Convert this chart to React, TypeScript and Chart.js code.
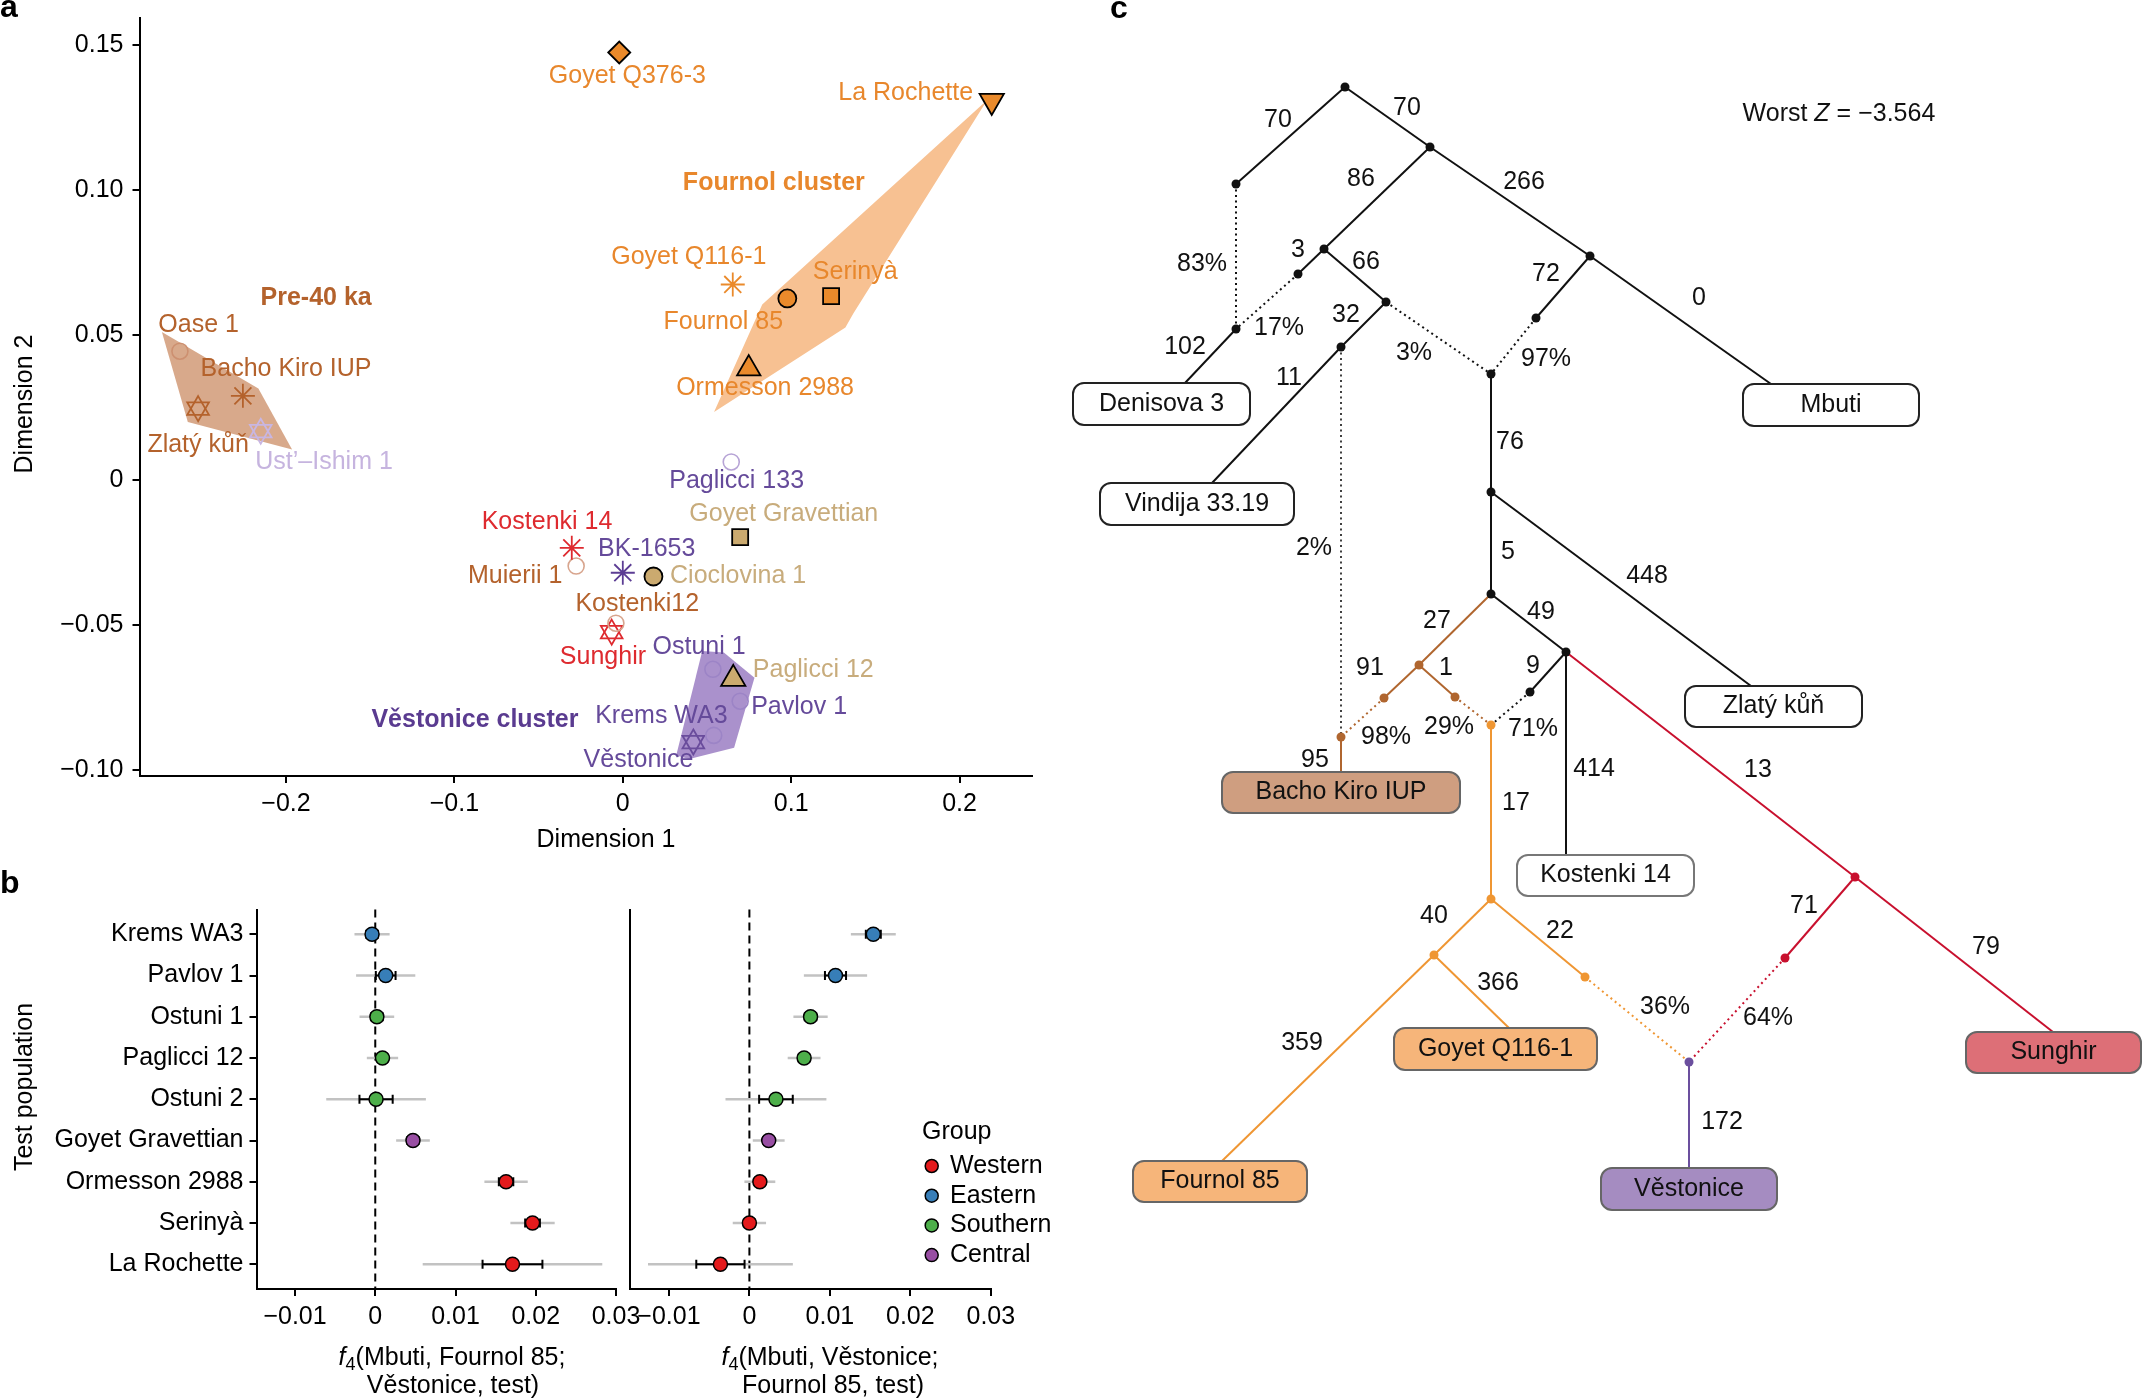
import React, { useEffect, useRef } from 'react';
import { Chart, registerables } from 'chart.js';

Chart.register(...registerables);

const PAGE_W = 2143;
const PAGE_H = 1400;
const FONT = "'Liberation Sans', Arial, Helvetica, sans-serif";
const INK = '#111111';
const FS = 25;

// ================= Panel a : MDS =================
const mdsSamples = [
  'Goyet Q376-3', 'La Rochette', 'Goyet Q116-1', 'Fournol 85', 'Serinyà', 'Ormesson 2988',
  'Oase 1', 'Bacho Kiro IUP', 'Zlatý kůň', 'Ust’–Ishim 1', 'Paglicci 133', 'Goyet Gravettian',
  'Kostenki 14', 'Muierii 1', 'BK-1653', 'Cioclovina 1', 'Kostenki12', 'Sunghir', 'Ostuni 1',
  'Paglicci 12', 'Pavlov 1', 'Krems WA3', 'Věstonice',
];
const mdsDim1 = [
  -0.0021, 0.2191, 0.0653, 0.0977, 0.1237, 0.0748,
  -0.263, -0.2256, -0.2522, -0.215, 0.0644, 0.0697,
  -0.0303, -0.0277, 0.0, 0.0182, -0.0041, -0.0066, 0.0535,
  0.0656, 0.0697, 0.054, 0.0419,
];
const mdsDim2 = [
  0.1473, 0.1306, 0.0673, 0.0625, 0.0633, 0.0383,
  0.0443, 0.0289, 0.0245, 0.0167, 0.0061, -0.0198,
  -0.0235, -0.0298, -0.0321, -0.0334, -0.0495, -0.0526, -0.0654,
  -0.0687, -0.0764, -0.0882, -0.0905,
];
const mdsXTicks = [-0.2, -0.1, 0, 0.1, 0.2];
const mdsXTickLabels = ['−0.2', '−0.1', '0', '0.1', '0.2'];
const mdsYTicks = [-0.1, -0.05, 0, 0.05, 0.1, 0.15];
const mdsYTickLabels = ['−0.10', '−0.05', '0', '0.05', '0.10', '0.15'];

const hullPre40 = [[-0.2737, 0.0509], [-0.2164, 0.0314], [-0.1964, 0.0104], [-0.2583, 0.0199]];
const hullFournol = [[0.2164, 0.1309], [0.1369, 0.0573], [0.1322, 0.0525], [0.0542, 0.0233], [0.0828, 0.0604]];
const hullVestonice = [[0.0472, -0.0591], [0.06, -0.0596], [0.0782, -0.0683], [0.0661, -0.0925], [0.0395, -0.0963], [0.0317, -0.0951]];

const clusterNames = ['Pre-40 ka', 'Fournol cluster', 'Věstonice cluster'];

// ---- styles for panel a ----
const ORANGE = '#EA8A2B';
const BROWN = '#B4622C';
const RED = '#DE2A2F';
const TAN = '#CBAA6F';
const PURPLE = '#654A9A';
const LAV = '#9C84C6';

const mdsMarker: Record<string, any> = {
  'Goyet Q376-3': { shape: 'rectRot', fill: ORANGE, stroke: '#000', r: 11, bw: 1.8 },
  'La Rochette': { shape: 'triangle', fill: ORANGE, stroke: '#000', r: 14, bw: 1.8, rot: 180 },
  'Goyet Q116-1': { shape: 'star', stroke: ORANGE, r: 12, bw: 1.8 },
  'Fournol 85': { shape: 'circle', fill: ORANGE, stroke: '#000', r: 9, bw: 1.8 },
  'Serinyà': { shape: 'rect', fill: ORANGE, stroke: '#000', r: 11.3, bw: 1.8 },
  'Ormesson 2988': { shape: 'triangle', fill: ORANGE, stroke: '#000', r: 13.5, bw: 1.8 },
  'Oase 1': { shape: 'circle', stroke: '#CD9070', r: 8, bw: 1.6 },
  'Bacho Kiro IUP': { shape: 'star', stroke: BROWN, r: 12, bw: 1.8 },
  'Zlatý kůň': { shape: 'triangle', stroke: BROWN, r: 12.5, bw: 1.8, david: true },
  'Ust’–Ishim 1': { shape: 'triangle', stroke: '#C8B6E2', r: 12.5, bw: 1.8, david: true },
  'Paglicci 133': { shape: 'circle', stroke: '#B7A4D6', r: 8, bw: 1.6 },
  'Goyet Gravettian': { shape: 'rect', fill: TAN, stroke: '#000', r: 11.3, bw: 1.8 },
  'Kostenki 14': { shape: 'star', stroke: RED, r: 12, bw: 1.8 },
  'Muierii 1': { shape: 'circle', stroke: '#D8A58E', r: 8, bw: 1.6 },
  'BK-1653': { shape: 'star', stroke: '#5C3D94', r: 12, bw: 1.8 },
  'Cioclovina 1': { shape: 'circle', fill: TAN, stroke: '#000', r: 9, bw: 1.8 },
  'Kostenki12': { shape: 'circle', stroke: '#D8A58E', r: 8, bw: 1.6 },
  'Sunghir': { shape: 'triangle', stroke: RED, r: 12.5, bw: 1.8, david: true },
  'Ostuni 1': { shape: 'circle', stroke: LAV, r: 8, bw: 1.6 },
  'Paglicci 12': { shape: 'triangle', fill: TAN, stroke: '#000', r: 14, bw: 1.8 },
  'Pavlov 1': { shape: 'circle', stroke: LAV, r: 8, bw: 1.6 },
  'Krems WA3': { shape: 'circle', stroke: LAV, r: 8, bw: 1.6 },
  'Věstonice': { shape: 'triangle', stroke: '#6A4C9C', r: 12.5, bw: 1.8, david: true },
};

const mdsLabelColor: Record<string, string> = {
  'Goyet Q376-3': '#E8872C', 'La Rochette': '#E8872C', 'Goyet Q116-1': '#E8872C', 'Fournol 85': '#E8872C',
  'Serinyà': '#E8872C', 'Ormesson 2988': '#E8872C', 'Oase 1': BROWN, 'Bacho Kiro IUP': BROWN,
  'Zlatý kůň': BROWN, 'Ust’–Ishim 1': '#C6B4DF', 'Paglicci 133': PURPLE, 'Goyet Gravettian': '#C8AC7C',
  'Kostenki 14': RED, 'Muierii 1': BROWN, 'BK-1653': PURPLE, 'Cioclovina 1': '#C8AC7C', 'Kostenki12': BROWN,
  'Sunghir': RED, 'Ostuni 1': PURPLE, 'Paglicci 12': '#C8AC7C', 'Pavlov 1': PURPLE, 'Krems WA3': PURPLE,
  'Věstonice': PURPLE,
};
// label anchors (data units, label centre)
const mdsLabelAt: Record<string, number[]> = {
  'Goyet Q376-3': [0.0027, 0.1392], 'La Rochette': [0.168, 0.1332], 'Goyet Q116-1': [0.0392, 0.0768],
  'Fournol 85': [0.0597, 0.0544], 'Serinyà': [0.138, 0.0714], 'Ormesson 2988': [0.0845, 0.0314],
  'Oase 1': [-0.2519, 0.0532], 'Bacho Kiro IUP': [-0.2, 0.0381], 'Zlatý kůň': [-0.2522, 0.0118],
  'Ust’–Ishim 1': [-0.1774, 0.0061], 'Paglicci 133': [0.0676, -0.0005], 'Goyet Gravettian': [0.0956, -0.012],
  'Kostenki 14': [-0.045, -0.0146], 'BK-1653': [0.0142, -0.0238], 'Muierii 1': [-0.0639, -0.0334],
  'Cioclovina 1': [0.0685, -0.0334], 'Kostenki12': [0.0086, -0.0428], 'Sunghir': [-0.0118, -0.0612],
  'Ostuni 1': [0.0453, -0.0578], 'Paglicci 12': [0.1131, -0.0658], 'Pavlov 1': [0.1047, -0.0785],
  'Krems WA3': [0.0229, -0.0817], 'Věstonice': [0.0093, -0.0966],
};
const clusterLabelAt = [[-0.1821, 0.0627], [0.0897, 0.1021], [-0.0878, -0.0828]];
const clusterColor = ['#B4622C', '#E8872C', '#5A3B90'];
const hullFill = ['#D8A98B', '#F7C192', '#AA91CC'];

// ================= Panel b : f4 statistics =================
const testPops = ['Krems WA3', 'Pavlov 1', 'Ostuni 1', 'Paglicci 12', 'Ostuni 2', 'Goyet Gravettian', 'Ormesson 2988', 'Serinyà', 'La Rochette'];
const testGroup = ['Eastern', 'Eastern', 'Southern', 'Southern', 'Southern', 'Central', 'Western', 'Western', 'Western'];
const f4FournolEst = [-0.0004, 0.0013, 0.0002, 0.0009, 0.0001, 0.0047, 0.0163, 0.0196, 0.0171];
const f4FournolSE = [0.00073, 0.00123, 0.00072, 0.00065, 0.00207, 0.0007, 0.0009, 0.00092, 0.00373];
const f4VestEst = [0.0154, 0.0107, 0.0076, 0.0068, 0.0033, 0.0024, 0.0013, 0.0, -0.0036];
const f4VestSE = [0.00093, 0.00131, 0.00071, 0.00068, 0.00209, 0.00066, 0.00064, 0.00069, 0.003];
const groupNames = ['Western', 'Eastern', 'Southern', 'Central'];
const groupColors = ['#E41A1C', '#377EB8', '#4DAF4A', '#984EA3'];
const f4Ticks = [-0.01, 0, 0.01, 0.02, 0.03];
const f4TickLabels = ['−0.01', '0', '0.01', '0.02', '0.03'];

// ================= Panel c : admixture graph =================
const treeNodes: Record<string, number[]> = {
  root: [1345, 87], a: [1236, 184], b: [1430, 147], c: [1324, 249], d: [1590, 256],
  e: [1298, 274], f: [1386, 302], den: [1236, 329], g: [1341, 347], h: [1536, 318],
  i: [1491, 374], j: [1491, 492], k: [1491, 594], l: [1419, 665], m: [1566, 652],
  n: [1384, 698], o: [1455, 697], p: [1530, 692], bk: [1341, 737], q: [1491, 725],
  r: [1855, 877], s: [1491, 899], t: [1434, 955], u: [1585, 977], v: [1785, 958], ves: [1689, 1062],
  Denisova3: [1185, 383], Mbuti: [1771, 384], Vindija: [1212, 483], Zlaty: [1751, 686],
  BachoKiro: [1341, 772], Kostenki14: [1566, 855], GoyetQ116: [1509, 1028], Fournol85: [1222, 1161],
  Vestonice: [1689, 1168], Sunghir: [2053, 1032],
};
const treeEdges = [
  ['root', 'a', '70'], ['root', 'b', '70'], ['b', 'c', '86'], ['b', 'd', '266'], ['a', 'den', '83%'],
  ['c', 'e', '3'], ['c', 'f', '66'], ['e', 'den', '17%'], ['den', 'Denisova3', '102'], ['f', 'g', '32'],
  ['f', 'i', '3%'], ['g', 'Vindija', '11'], ['g', 'bk', '2%'], ['d', 'h', '72'], ['d', 'Mbuti', '0'],
  ['h', 'i', '97%'], ['i', 'j', '76'], ['j', 'Zlaty', '448'], ['j', 'k', '5'], ['k', 'l', '27'],
  ['k', 'm', '49'], ['l', 'n', '91'], ['l', 'o', '1'], ['n', 'bk', '98%'], ['o', 'q', '29%'],
  ['m', 'p', '9'], ['p', 'q', '71%'], ['m', 'Kostenki14', '414'], ['m', 'r', '13'], ['bk', 'BachoKiro', '95'],
  ['q', 's', '17'], ['s', 't', '40'], ['s', 'u', '22'], ['t', 'Fournol85', '359'], ['t', 'GoyetQ116', '366'],
  ['u', 'ves', '36%'], ['r', 'v', '71'], ['r', 'Sunghir', '79'], ['v', 'ves', '64%'], ['ves', 'Vestonice', '172'],
];
const treeLeafNames = ['Denisova 3', 'Mbuti', 'Vindija 33.19', 'Zlatý kůň', 'Bacho Kiro IUP', 'Kostenki 14', 'Goyet Q116-1', 'Fournol 85', 'Věstonice', 'Sunghir'];
const worstZ = '−3.564';

// ---- styles / layout for panel c ----
const LINEAGE: Record<string, string> = { k: '#111111', brown: '#B0662F', orange: '#EF9633', red: '#C8102E', purple: '#6B4F9E' };
const treeEdgeStyle = [
  ['k', 0], ['k', 0], ['k', 0], ['k', 0], ['k', 1],
  ['k', 0], ['k', 0], ['k', 1], ['k', 0], ['k', 0],
  ['k', 1], ['k', 0], ['k', 2], ['k', 0], ['k', 0],
  ['k', 1], ['k', 0], ['k', 0], ['k', 0], ['brown', 0],
  ['k', 0], ['brown', 0], ['brown', 0], ['brown', 1], ['brown', 1],
  ['k', 0], ['k', 1], ['k', 0], ['red', 0], ['brown', 0],
  ['orange', 0], ['orange', 0], ['orange', 0], ['orange', 0], ['orange', 0],
  ['orange', 1], ['red', 0], ['red', 0], ['red', 1], ['purple', 0],
];
const treeEdgeLabelAt = [
  [1278, 120], [1407, 108], [1361, 179], [1524, 182], [1202, 264],
  [1298, 250], [1366, 262], [1279, 328], [1185, 347], [1346, 315],
  [1414, 353], [1289, 378], [1314, 548], [1546, 274], [1699, 298],
  [1546, 359], [1510, 442], [1647, 576], [1508, 552], [1437, 621],
  [1541, 612], [1370, 668], [1446, 668], [1386, 737], [1449, 727],
  [1533, 666], [1533, 729], [1594, 769], [1758, 770], [1315, 760],
  [1516, 803], [1434, 916], [1560, 931], [1302, 1043], [1498, 983],
  [1665, 1007], [1804, 906], [1986, 947], [1768, 1018], [1722, 1122],
];
const treeNodeColor: Record<string, string> = {
  l: 'brown', n: 'brown', o: 'brown', bk: 'brown', q: 'orange', s: 'orange', t: 'orange', u: 'orange',
  r: 'red', v: 'red', ves: 'purple',
};
const treeInner = ['root', 'a', 'b', 'c', 'd', 'e', 'f', 'den', 'g', 'h', 'i', 'j', 'k', 'l', 'm', 'n', 'o', 'p', 'bk', 'q', 'r', 's', 't', 'u', 'v', 'ves'];
const treeBoxLayout = [
  [1161.5, 404, 177, 42], [1831, 405, 176, 42], [1197, 504, 194, 42], [1773.5, 706.5, 177, 41],
  [1341, 792.5, 238, 41], [1605.5, 875.5, 177, 41], [1495.5, 1049, 203, 42], [1220, 1181.5, 174, 41],
  [1689, 1189, 176, 42], [2053.5, 1052.5, 175, 41],
];
const treeBoxFill = ['#FFFFFF', '#FFFFFF', '#FFFFFF', '#FFFFFF', '#CF9E80', '#FFFFFF', '#F6B57A', '#F6B57A', '#A58CC1', '#DD6F77'];
const treeBoxStroke = ['#222', '#222', '#222', '#222', '#666', '#777', '#666', '#666', '#666', '#666'];

// ================= helpers =================
type Seg = { t: string; italic?: boolean; bold?: boolean; size?: number; dy?: number };

function drawRich(ctx: CanvasRenderingContext2D, segs: Seg[], x: number, y: number, align: string, size: number, color: string, baseline = 'middle') {
  ctx.save();
  ctx.fillStyle = color;
  ctx.textBaseline = baseline as CanvasTextBaseline;
  ctx.textAlign = 'left';
  const fontOf = (s: Seg) => `${s.italic ? 'italic ' : ''}${s.bold ? 'bold ' : ''}${s.size ?? size}px ${FONT}`;
  let total = 0;
  const widths = segs.map((s) => {
    ctx.font = fontOf(s);
    const w = ctx.measureText(s.t).width;
    total += w;
    return w;
  });
  let cx = align === 'left' ? x : align === 'center' ? x - total / 2 : x - total;
  segs.forEach((s, i) => {
    ctx.font = fontOf(s);
    ctx.fillText(s.t, cx, y + (s.dy || 0));
    cx += widths[i];
  });
  ctx.restore();
}

function drawRotated(ctx: CanvasRenderingContext2D, text: string, x: number, y: number, size: number) {
  ctx.save();
  ctx.translate(x, y);
  ctx.rotate(-Math.PI / 2);
  drawRich(ctx, [{ t: text }], 0, 0, 'center', size, '#000');
  ctx.restore();
}

function fixedTicks(values: number[]) {
  return (scale: any) => {
    scale.ticks = values.map((v) => ({ value: v }));
  };
}
function tickLabel(values: number[], labels: string[]) {
  return (v: any) => {
    const i = values.findIndex((t) => Math.abs(t - Number(v)) < 1e-9);
    return i >= 0 ? labels[i] : '';
  };
}
function fitX(h: number) {
  return (s: any) => { s.height = h; s.paddingLeft = 0; s.paddingRight = 0; s.paddingTop = 0; s.paddingBottom = 0; };
}
function fitY(w: number) {
  return (s: any) => { s.width = w; s.paddingLeft = 0; s.paddingRight = 0; s.paddingTop = 0; s.paddingBottom = 0; };
}

const axisGrid = { display: true, drawOnChartArea: false, drawTicks: true, tickLength: 7, color: '#000', lineWidth: 2 };
const axisBorder = { display: true, color: '#000', width: 2 };
const tickFont = { family: FONT, size: FS };

// ================= chart configs =================
function mdsConfig(): any {
  const datasets = mdsSamples.map((name, i) => {
    const m = mdsMarker[name];
    const pt = { x: mdsDim1[i], y: mdsDim2[i] };
    return {
      label: name,
      data: m.david ? [pt, pt] : [pt],
      pointStyle: m.shape,
      pointRadius: m.r,
      pointHoverRadius: m.r,
      pointRotation: m.david ? [0, 180] : m.rot || 0,
      pointBackgroundColor: m.fill || 'rgba(0,0,0,0)',
      pointBorderColor: m.stroke,
      pointBorderWidth: m.bw,
      pointHoverBorderWidth: m.bw,
    };
  });
  const hulls = [hullPre40, hullFournol, hullVestonice];
  const plugin = {
    id: 'mdsDecor',
    beforeDatasetsDraw(chart: any) {
      const { ctx, scales } = chart;
      hulls.forEach((h, k) => {
        ctx.save();
        ctx.beginPath();
        h.forEach(([vx, vy], i) => {
          const px = scales.x.getPixelForValue(vx);
          const py = scales.y.getPixelForValue(vy);
          if (i) ctx.lineTo(px, py); else ctx.moveTo(px, py);
        });
        ctx.closePath();
        ctx.fillStyle = hullFill[k];
        ctx.fill();
        ctx.restore();
      });
    },
    afterDatasetsDraw(chart: any) {
      const { ctx, scales } = chart;
      mdsSamples.forEach((name) => {
        const [lx, ly] = mdsLabelAt[name];
        drawRich(ctx, [{ t: name }], scales.x.getPixelForValue(lx), scales.y.getPixelForValue(ly), 'center', FS, mdsLabelColor[name]);
      });
      clusterNames.forEach((name, k) => {
        const [lx, ly] = clusterLabelAt[k];
        drawRich(ctx, [{ t: name, bold: true }], scales.x.getPixelForValue(lx), scales.y.getPixelForValue(ly), 'center', FS, clusterColor[k]);
      });
    },
    afterDraw(chart: any) {
      const { ctx } = chart;
      drawRich(ctx, [{ t: 'a', bold: true }], 0, 17, 'left', 32, '#000', 'alphabetic');
      drawRich(ctx, [{ t: 'Dimension 1' }], 606, 840, 'center', FS, '#000');
      drawRotated(ctx, 'Dimension 2', 25, 404, FS);
    },
  };
  return {
    type: 'scatter',
    data: { datasets },
    options: {
      responsive: false,
      animation: false,
      events: [],
      layout: { padding: { left: 0, top: 18, right: PAGE_W - 1032, bottom: PAGE_H - 776 - 94 }, autoPadding: false },
      plugins: { legend: { display: false }, tooltip: { enabled: false } },
      scales: {
        x: {
          type: 'linear', min: -0.287, max: 0.243,
          afterBuildTicks: fixedTicks(mdsXTicks),
          afterFit: fitX(94),
          ticks: { callback: tickLabel(mdsXTicks, mdsXTickLabels), font: tickFont, color: '#000', padding: 6, maxRotation: 0, autoSkip: false },
          grid: axisGrid, border: axisBorder,
        },
        y: {
          type: 'linear', min: -0.1022, max: 0.1592,
          afterBuildTicks: fixedTicks(mdsYTicks),
          afterFit: fitY(139.5),
          ticks: { callback: tickLabel(mdsYTicks, mdsYTickLabels), font: tickFont, color: '#000', padding: 9, autoSkip: false },
          grid: axisGrid, border: axisBorder,
        },
      },
    },
    plugins: [plugin],
  };
}

const F4_TOP = 909.5;
const F4_BOTTOM = 1289;

function f4Config(est: number[], se: number[], left: boolean): any {
  const n = testPops.length;
  const colors = testGroup.map((g) => groupColors[groupNames.indexOf(g)]);
  const plotLeft = left ? 256.5 : 630.3;
  const plotRight = left ? 616 : 990.8;
  const plugin = {
    id: 'f4bars',
    beforeDatasetsDraw(chart: any) {
      const { ctx, chartArea, scales } = chart;
      const X = (v: number) => scales.x.getPixelForValue(v);
      ctx.save();
      ctx.strokeStyle = '#000';
      ctx.lineWidth = 2;
      ctx.setLineDash([8, 5]);
      ctx.beginPath();
      ctx.moveTo(X(0), chartArea.top);
      ctx.lineTo(X(0), chartArea.bottom);
      ctx.stroke();
      ctx.restore();
      est.forEach((v, i) => {
        const py = scales.y.getPixelForValue(n - i);
        ctx.save();
        ctx.strokeStyle = '#C2C2C2';
        ctx.lineWidth = 2.6;
        ctx.beginPath();
        ctx.moveTo(X(v - 3 * se[i]), py);
        ctx.lineTo(X(v + 3 * se[i]), py);
        ctx.stroke();
        ctx.strokeStyle = '#000';
        ctx.lineWidth = 2;
        const a = X(v - se[i]);
        const b = X(v + se[i]);
        ctx.beginPath();
        ctx.moveTo(a, py); ctx.lineTo(b, py);
        ctx.moveTo(a, py - 4.5); ctx.lineTo(a, py + 4.5);
        ctx.moveTo(b, py - 4.5); ctx.lineTo(b, py + 4.5);
        ctx.stroke();
        ctx.restore();
      });
    },
    afterDraw(chart: any) {
      const { ctx } = chart;
      if (left) {
        drawRich(ctx, [{ t: 'b', bold: true }], 0, 893, 'left', 32, '#000', 'alphabetic');
        drawRotated(ctx, 'Test population', 25, 1087, FS);
        drawRich(ctx, [{ t: 'f', italic: true }, { t: '4', size: 18, dy: 7 }, { t: '(Mbuti, Fournol 85;' }], 452, 1358, 'center', FS, '#000');
        drawRich(ctx, [{ t: 'Věstonice, test)' }], 453, 1386, 'center', FS, '#000');
      } else {
        drawRich(ctx, [{ t: 'f', italic: true }, { t: '4', size: 18, dy: 7 }, { t: '(Mbuti, Věstonice;' }], 830, 1358, 'center', FS, '#000');
        drawRich(ctx, [{ t: 'Fournol 85, test)' }], 833, 1386, 'center', FS, '#000');
        // legend
        drawRich(ctx, [{ t: 'Group' }], 922, 1132, 'left', FS, '#000');
        groupNames.forEach((g, k) => {
          const cy = 1166 + k * 29.7;
          ctx.save();
          ctx.beginPath();
          ctx.arc(931.7, cy, 6.5, 0, Math.PI * 2);
          ctx.fillStyle = groupColors[k];
          ctx.fill();
          ctx.lineWidth = 1.5;
          ctx.strokeStyle = '#000';
          ctx.stroke();
          ctx.restore();
          drawRich(ctx, [{ t: g }], 950, cy, 'left', FS, '#000');
        });
      }
    },
  };
  return {
    type: 'scatter',
    data: {
      datasets: [{
        label: left ? 'Fournol 85' : 'Věstonice',
        data: est.map((v, i) => ({ x: v, y: n - i })),
        pointRadius: 7,
        pointHoverRadius: 7,
        pointBackgroundColor: colors,
        pointBorderColor: '#000',
        pointBorderWidth: 1.5,
      }],
    },
    options: {
      responsive: false,
      animation: false,
      events: [],
      layout: {
        padding: { left: left ? 0 : 620, top: F4_TOP, right: PAGE_W - plotRight, bottom: PAGE_H - F4_BOTTOM - 100 },
        autoPadding: false,
      },
      plugins: { legend: { display: false }, tooltip: { enabled: false } },
      scales: {
        x: {
          type: 'linear', min: -0.0148, max: 0.03,
          afterBuildTicks: fixedTicks(f4Ticks),
          afterFit: fitX(100),
          ticks: { callback: tickLabel(f4Ticks, f4TickLabels), font: tickFont, color: '#000', padding: 6, maxRotation: 0, autoSkip: false },
          grid: axisGrid, border: axisBorder,
        },
        y: {
          type: 'linear', min: 0.4, max: n + 0.6,
          afterBuildTicks: fixedTicks(testPops.map((_, i) => n - i)),
          afterFit: fitY(left ? plotLeft : plotLeft - 620),
          ticks: left
            ? { callback: (v: any) => testPops[n - Number(v)] ?? '', font: tickFont, color: '#000', padding: 6, autoSkip: false }
            : { display: false },
          grid: left ? axisGrid : { display: false },
          border: axisBorder,
        },
      },
    },
    plugins: [plugin],
  };
}

function roundRectPath(ctx: CanvasRenderingContext2D, x: number, y: number, w: number, h: number, r: number) {
  ctx.beginPath();
  ctx.moveTo(x + r, y);
  ctx.arcTo(x + w, y, x + w, y + h, r);
  ctx.arcTo(x + w, y + h, x, y + h, r);
  ctx.arcTo(x, y + h, x, y, r);
  ctx.arcTo(x, y, x + w, y, r);
  ctx.closePath();
}

function treeConfig(): any {
  const edgeSets = treeEdges.map(([from, to], i) => {
    const a = treeNodes[from];
    const b = treeNodes[to];
    const [lin, dotted] = treeEdgeStyle[i] as [string, number];
    return {
      label: `${from}-${to}`,
      data: [{ x: a[0], y: a[1] }, { x: b[0], y: b[1] }],
      showLine: true,
      borderColor: LINEAGE[lin],
      borderWidth: dotted === 2 ? 1.6 : 2,
      borderDash: dotted ? [2, 3.5] : [],
      borderCapStyle: 'butt',
      pointRadius: 0,
      pointHoverRadius: 0,
      order: 1,
    };
  });
  const dots = {
    label: 'nodes',
    data: treeInner.map((id) => ({ x: treeNodes[id][0], y: treeNodes[id][1] })),
    pointRadius: 4.5,
    pointHoverRadius: 4.5,
    pointBackgroundColor: treeInner.map((id) => LINEAGE[treeNodeColor[id] || 'k']),
    pointBorderWidth: 0,
    order: 0,
  };
  const plugin = {
    id: 'treeDecor',
    afterDatasetsDraw(chart: any) {
      const { ctx, scales } = chart;
      const X = (v: number) => scales.x.getPixelForValue(v);
      const Y = (v: number) => scales.y.getPixelForValue(v);
      treeLeafNames.forEach((name, i) => {
        const [cx, cy, w, h] = treeBoxLayout[i];
        const x0 = X(cx - w / 2);
        const y0 = Y(cy - h / 2);
        ctx.save();
        roundRectPath(ctx, x0, y0, X(cx + w / 2) - x0, Y(cy + h / 2) - y0, 11);
        ctx.fillStyle = treeBoxFill[i];
        ctx.fill();
        ctx.lineWidth = 2;
        ctx.strokeStyle = treeBoxStroke[i];
        ctx.stroke();
        ctx.restore();
        drawRich(ctx, [{ t: name }], X(cx), Y(cy), 'center', FS, INK);
      });
      treeEdges.forEach((e, i) => {
        const [lx, ly] = treeEdgeLabelAt[i];
        drawRich(ctx, [{ t: e[2] }], X(lx), Y(ly), 'center', FS, INK);
      });
      drawRich(ctx, [{ t: 'Worst ' }, { t: 'Z', italic: true }, { t: ` = ${worstZ}` }], X(1742.6), Y(114), 'left', FS, INK);
      drawRich(ctx, [{ t: 'c', bold: true }], 1110, 18, 'left', 32, '#000', 'alphabetic');
    },
  };
  return {
    type: 'scatter',
    data: { datasets: [dots, ...edgeSets] },
    options: {
      responsive: false,
      animation: false,
      events: [],
      layout: { padding: 0, autoPadding: false },
      plugins: { legend: { display: false }, tooltip: { enabled: false } },
      scales: {
        x: { type: 'linear', min: 0, max: PAGE_W, display: false },
        y: { type: 'linear', min: 0, max: PAGE_H, reverse: true, display: false },
      },
    },
    plugins: [plugin],
  };
}

export default function App() {
  const aRef = useRef<HTMLCanvasElement>(null);
  const bLRef = useRef<HTMLCanvasElement>(null);
  const bRRef = useRef<HTMLCanvasElement>(null);
  const cRef = useRef<HTMLCanvasElement>(null);

  useEffect(() => {
    const charts: Chart[] = [];
    if (aRef.current) charts.push(new Chart(aRef.current, mdsConfig()));
    if (bLRef.current) charts.push(new Chart(bLRef.current, f4Config(f4FournolEst, f4FournolSE, true)));
    if (bRRef.current) charts.push(new Chart(bRRef.current, f4Config(f4VestEst, f4VestSE, false)));
    if (cRef.current) charts.push(new Chart(cRef.current, treeConfig()));
    return () => charts.forEach((c) => c.destroy());
  }, []);

  const cs: React.CSSProperties = { position: 'absolute', left: 0, top: 0, width: PAGE_W, height: PAGE_H };
  return (
    <div style={{ position: 'absolute', left: 0, top: 0, width: PAGE_W, height: PAGE_H, background: '#ffffff', overflow: 'hidden' }}>
      <canvas ref={aRef} width={PAGE_W} height={PAGE_H} style={cs} />
      <canvas ref={bLRef} width={PAGE_W} height={PAGE_H} style={cs} />
      <canvas ref={bRRef} width={PAGE_W} height={PAGE_H} style={cs} />
      <canvas ref={cRef} width={PAGE_W} height={PAGE_H} style={cs} />
    </div>
  );
}
